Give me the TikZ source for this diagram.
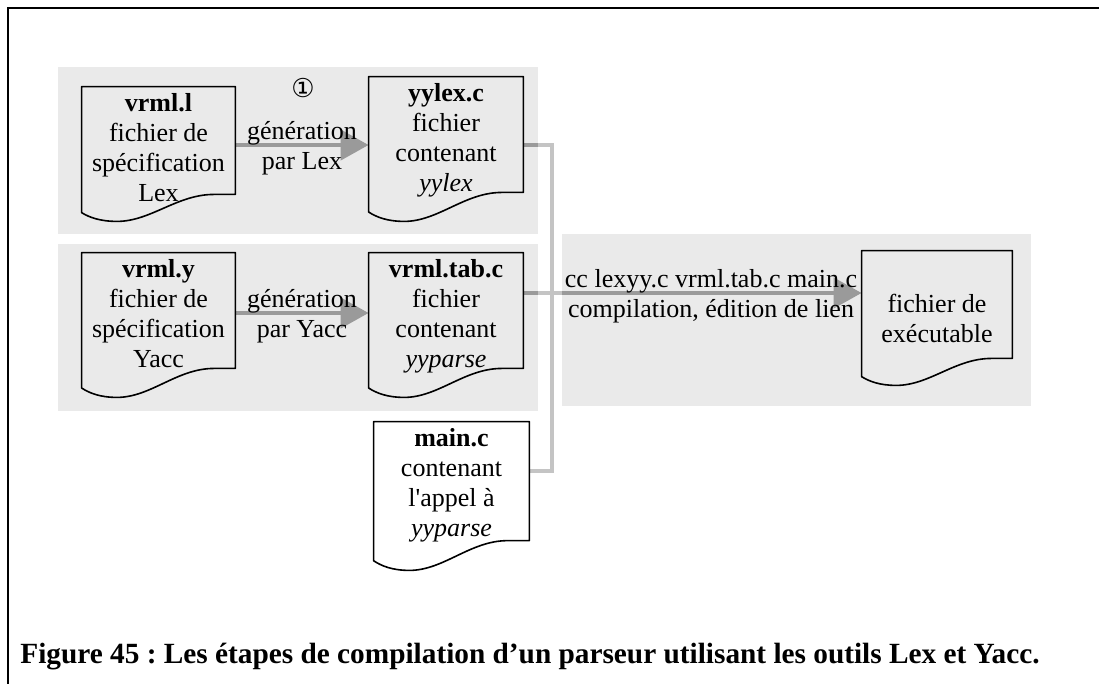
\documentclass[tikz,border=0pt]{standalone}
\usepackage{fontspec}
\setmainfont{Liberation Serif}[Ligatures=TeXOff]
\newfontfamily\symbfont{DejaVu Sans}
\usetikzlibrary{arrows.meta,calc}
\frenchspacing

\definecolor{panelgray}{HTML}{EAEAEA}
\definecolor{flowgray}{HTML}{9A9A9A}
\definecolor{busgray}{HTML}{C4C4C4}

\newcommand{\bodyfont}{\fontsize{13}{15}\selectfont}

\tikzset{
  frameline/.style={black, line width=1pt},
  panel/.style={fill=panelgray, inner sep=0pt},
  doc/.style={inner sep=0pt, align=center},
  docline/.style={black, line width=0.8pt, line join=round},
  doctext/.style={anchor=north, align=center, inner sep=3pt, font=\bodyfont},
  steplabel/.style={align=center, inner sep=0pt, font=\bodyfont},
  genarrow/.style={draw=flowgray, line width=2.2pt, -{Triangle[length=14pt,width=15pt]}},
  flowline/.style={draw=flowgray, line width=2.2pt},
  busline/.style={draw=busgray, line width=2.2pt}
}

% outline of a file: flat top, wavy bottom
\newcommand{\docoutline}[1]{%
  \draw[docline] let \p1=(#1.north west), \p2=(#1.south east),
      \n1={\x2-\x1}, \n2={\y1-\y2} in
    (\p1) -- (\x2,\y1) -- (\x2,\y1-0.8*\n2) -- (\x1+0.86*\n1,\y1-0.8*\n2)
    .. controls (\x1+0.62*\n1,\y1-0.8*\n2) and (\x1+0.45*\n1,\y2) .. (\x1+0.23*\n1,\y2)
    .. controls (\x1+0.12*\n1,\y2) and (\x1+0.05*\n1,\y1-0.97*\n2) .. (\x1,\y1-0.935*\n2)
    -- cycle;}

\begin{document}
\begin{tikzpicture}[x=0.5pt, y=-0.5pt, font=\bodyfont]
\useasboundingbox (0,0) rectangle (1099,684);
\draw[frameline] (8,684) -- (8,8) -- (1099,8);

\node[panel, minimum width=240pt, minimum height=83.5pt] (lexbox) at (298,150.5) {};
\node[panel, minimum width=240pt, minimum height=83.5pt] (yaccbox) at (298,327.5) {};
\node[panel, minimum width=234.5pt, minimum height=86pt] (ccbox) at (796.5,320) {};

\node[doc, minimum width=76.5pt, minimum height=67pt,
  label={[doctext, name=lexsrctext]north:{\textbf{vrml.l}\\fichier de\\spécification\\Lex}}]
  (lexsrc) at (158.5,154) {};
\node[doc, minimum width=77pt, minimum height=72pt,
  label={[doctext, name=yylexctext]north:{\textbf{yylex.c}\\fichier\\contenant\\\textit{yylex}}}]
  (yylexc) at (446,149) {};
\node[doc, minimum width=76.5pt, minimum height=72pt,
  label={[doctext, name=yaccsrctext]north:{\textbf{vrml.y}\\fichier de\\spécification\\Yacc}}]
  (yaccsrc) at (158.5,325) {};
\node[doc, minimum width=77pt, minimum height=72pt,
  label={[doctext, name=tabctext]north:{\textbf{vrml.tab.c}\\fichier\\contenant\\\textit{yyparse}}}]
  (tabc) at (446,325) {};
\node[doc, minimum width=77.5pt, minimum height=74pt,
  label={[doctext, name=mainctext]north:{\textbf{main.c}\\contenant\\l'appel à\\\textit{yyparse}}}]
  (mainc) at (451.5,496) {};
\node[doc, minimum width=75pt, minimum height=67pt] (exe) at (937,318) {fichier de\\exécutable};

\coordinate (lexout) at ([yshift=4.5pt]lexsrc.east);
\coordinate (yaccout) at ([yshift=6pt]yaccsrc.east);
\coordinate (tabout) at ([yshift=16pt]tabc.east);
\coordinate (yylexout) at ([yshift=2pt]yylexc.east);
\coordinate (mainout) at ([yshift=12.5pt]mainc.east);
\coordinate (bus) at (552,300);

\draw[genarrow] (lexout) -- (lexout -| yylexc.west);
\draw[genarrow] (yaccout) -- (yaccout -| tabc.west);
\draw[genarrow] (tabout) -- (tabout -| exe.west);
\draw[busline] (tabout -| yaccbox.east) -- (tabout -| ccbox.west);
\draw[flowline] (yylexout) -- (yylexout -| lexbox.east);
\draw[busline] (yylexout -| lexbox.east) -| (bus) |- (mainout);

\docoutline{lexsrc}
\docoutline{yylexc}
\docoutline{yaccsrc}
\docoutline{tabc}
\docoutline{mainc}
\docoutline{exe}

\node[steplabel] (lexgen) at (302,148) {génération\\par Lex};
\node[steplabel] (yaccgen) at (302,316) {génération\\par Yacc};
\node[steplabel] (cclabel) at (711,296) {cc lexyy.c vrml.tab.c main.c\\compilation, édition de lien};
\node[inner sep=0pt, font=\symbfont\fontsize{13}{15}\selectfont] (stepone) at (303,88) {①};

\node[anchor=base west, inner sep=0pt, font=\bfseries\fontsize{14.65}{17}\selectfont] (caption)
  at (20,663) {Figure 45 : Les étapes de compilation d’un parseur utilisant les outils Lex et Yacc.};
\end{tikzpicture}
\end{document}
